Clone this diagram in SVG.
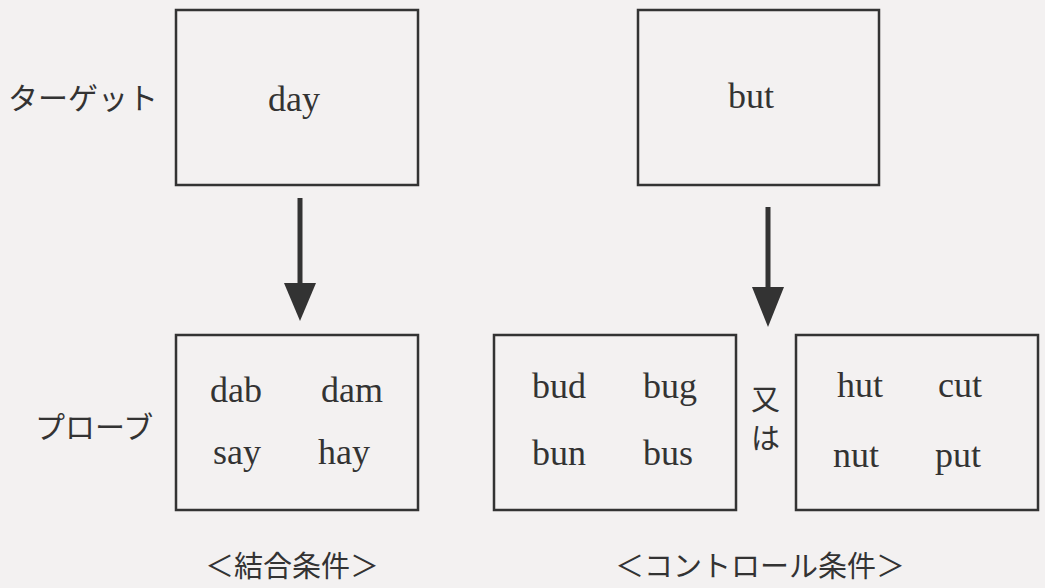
<svg xmlns="http://www.w3.org/2000/svg" width="1045" height="588" viewBox="0 0 1045 588">
<defs>
<style>
.box{fill:none;stroke:#333;stroke-width:2.5}
.en{font-family:"Liberation Serif","Times New Roman",serif;font-size:36px;fill:#333}
.jp{font-family:"Noto Sans CJK JP","Noto Sans",sans-serif;font-size:30px;fill:#333}
.cap{font-family:"Noto Sans CJK JP","Noto Sans",sans-serif;font-size:29px;fill:#333}
.line{stroke:#333;stroke-width:5;fill:none}
.head{fill:#333}
</style>
</defs>
<rect x="0" y="0" width="1045" height="588" fill="#f3f1f1"/>
<g id="label-target"><text class="jp" x="8" y="109">ターゲット</text></g>
<g id="label-probe"><text class="jp" x="35" y="438">プローブ</text></g>
<g id="target-day">
<rect class="box" x="176" y="10" width="242" height="175"/>
<text class="en" x="268" y="111">day</text>
</g>
<g id="target-but">
<rect class="box" x="638" y="10" width="241" height="175"/>
<text class="en" x="728" y="108">but</text>
</g>
<g id="probe-combined">
<rect class="box" x="176" y="335" width="242" height="175"/>
<text class="en" x="210" y="402">dab</text>
<text class="en" x="321" y="402">dam</text>
<text class="en" x="213" y="464">say</text>
<text class="en" x="318" y="464">hay</text>
</g>
<g id="probe-control-1">
<rect class="box" x="494" y="335" width="242" height="175"/>
<text class="en" x="532" y="398">bud</text>
<text class="en" x="643" y="398">bug</text>
<text class="en" x="532" y="465">bun</text>
<text class="en" x="643" y="465">bus</text>
</g>
<g id="label-or">
<text class="jp" x="751" y="410" style="font-size:29px">又</text>
<text class="jp" x="751" y="449" style="font-size:29px">は</text>
</g>
<g id="probe-control-2">
<rect class="box" x="796" y="335" width="242" height="175"/>
<text class="en" x="837" y="397">hut</text>
<text class="en" x="938" y="397">cut</text>
<text class="en" x="833" y="467">nut</text>
<text class="en" x="935" y="467">put</text>
</g>
<g id="caption-combined"><text class="cap" x="205" y="577">＜結合条件＞</text></g>
<g id="caption-control"><text class="cap" x="615" y="577">＜コントロール条件＞</text></g>
<g id="connectors">
<line class="line" x1="300" y1="198" x2="300" y2="290"/>
<polygon class="head" points="284,283 316,283 300,321"/>
<line class="line" x1="768" y1="207" x2="768" y2="294"/>
<polygon class="head" points="752,287 784,287 768,327"/>
</g>
</svg>
